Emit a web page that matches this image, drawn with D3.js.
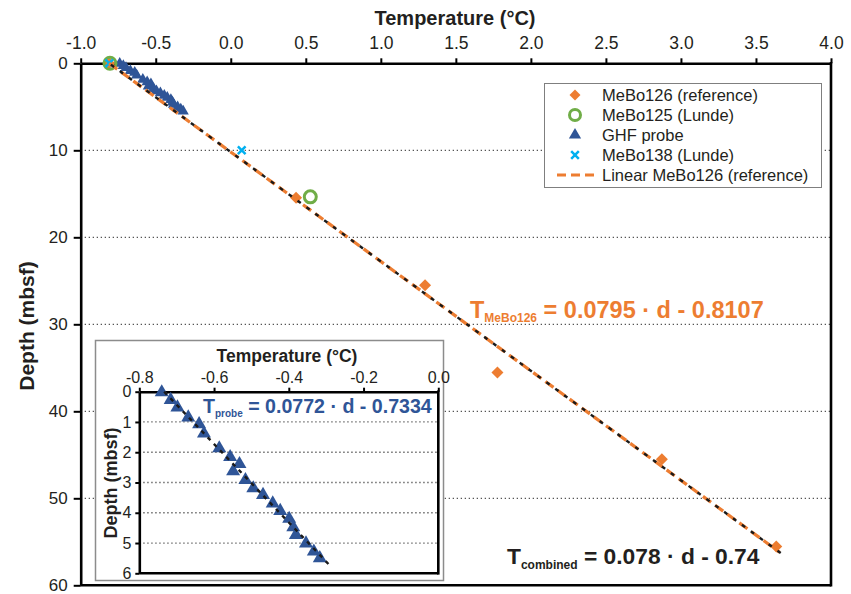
<!DOCTYPE html>
<html><head><meta charset="utf-8">
<script src="https://cdn.jsdelivr.net/npm/d3@7/dist/d3.min.js"></script>
<style>
body{margin:0;background:#fff}
svg{display:block}
text{font-family:"Liberation Sans",Arial,Helvetica,sans-serif;fill:#231f20}
</style>
</head><body>
<svg id="c" width="851" height="594"></svg>
<script>
// ---------- data ----------
const mebo126Temp  = [-0.81, 0.435, 1.295, 1.777, 2.873, 3.635];
const mebo126Depth = [0, 15.45, 25.5, 35.55, 45.5, 55.55];
const mebo125Temp  = [-0.805, 0.53];
const mebo125Depth = [0, 15.35];
const mebo138Temp  = [-0.81, 0.073];
const mebo138Depth = [0, 10.0];
const probeTemp  = [-0.740,-0.716,-0.698,-0.669,-0.640,-0.627,-0.586,-0.557,-0.532,-0.549,-0.516,-0.495,-0.469,-0.443,-0.423,-0.399,-0.388,-0.381,-0.354,-0.333,-0.317];
const probeDepth = [0.02,0.27,0.52,0.85,1.07,1.38,1.87,2.16,2.39,2.63,2.92,3.19,3.41,3.69,3.94,4.20,4.48,4.73,5.01,5.28,5.50];

const fitMeBo126 = [0.0795, -0.8107];   // slope, intercept (orange + black dashed trend)
const fitProbe = [0.0772, -0.7334];
const fitMainDepth = [0, 56.2];
const fitBlackDepth = [0.15, 56.3];
const fitProbeDepth = [0, 5.8];

const xTicks = [-1, -0.5, 0, 0.5, 1, 1.5, 2, 2.5, 3, 3.5, 4];
const xTickLabels = ["-1.0","-0.5","0.0","0.5","1.0","1.5","2.0","2.5","3.0","3.5","4.0"];
const yTicks = [0,10,20,30,40,50,60];
const yTickLabels = ["0","10","20","30","40","50","60"];
const gridDepths = [10,20,30,40,50];
const insetXTicks = [-0.8,-0.6,-0.4,-0.2,0];
const insetXTickLabels = ["-0.8","-0.6","-0.4","-0.2","0.0"];
const insetYTicks = [0,1,2,3,4,5,6];
const insetYTickLabels = ["0","1","2","3","4","5","6"];
const insetGrid = [1,2,3,4,5];
const legendLabels = ["MeBo126 (reference)","MeBo125 (Lunde)","GHF probe","MeBo138 (Lunde)","Linear MeBo126 (reference)"];

// ---------- style ----------
const ORANGE = "#ED7D31", GREEN = "#70AD47", BLUE = "#2F5597", CYAN = "#00B0F0";

const svg = d3.select("#c");
const x = d3.scaleLinear().domain([-1,4]).range([80.7,831]);
const y = d3.scaleLinear().domain([0,60]).range([63.3,585.3]);

// gridlines
svg.append("g").selectAll("line").data(gridDepths).join("line")
  .attr("x1", x(-1)).attr("x2", x(4)).attr("y1", d=>y(d)).attr("y2", d=>y(d))
  .attr("stroke","#555").attr("stroke-width",1.3).attr("stroke-dasharray","1.3,2.7");

// axes
const gx = svg.append("g").attr("transform",`translate(0,${y(0)})`)
  .call(d3.axisTop(x).tickValues(xTicks).tickFormat((d,i)=>xTickLabels[i]).tickSize(5).tickSizeOuter(0).tickPadding(9));
const gy = svg.append("g").attr("transform",`translate(${x(-1)},0)`)
  .call(d3.axisLeft(y).tickValues(yTicks).tickFormat((d,i)=>yTickLabels[i]).tickSize(7).tickSizeOuter(0).tickPadding(6));
[gx,gy].forEach(g=>{
  g.select(".domain").attr("stroke","#000").attr("stroke-width",2.6);
  g.selectAll(".tick line").attr("stroke","#000").attr("stroke-width",2);
  g.selectAll(".tick text").attr("font-size",17.5).attr("fill","#231f20").style("font-family",'"Liberation Sans",Arial,sans-serif');
});
gy.selectAll(".tick text").attr("font-size",17).attr("dy","0.28em");
svg.append("line").attr("x1",x(4)).attr("x2",x(4)).attr("y1",y(0)-1.3).attr("y2",y(60)+1.3).attr("stroke","#000").attr("stroke-width",2.6);
svg.append("line").attr("x1",x(-1)).attr("x2",x(4)).attr("y1",y(60)).attr("y2",y(60)).attr("stroke","#000").attr("stroke-width",2.6);

// axis titles
svg.append("text").attr("x",455).attr("y",25).attr("text-anchor","middle")
  .attr("font-size",20).attr("font-weight","bold").text("Temperature (°C)");
svg.append("text").attr("transform",`translate(34,326) rotate(-90)`).attr("text-anchor","middle")
  .attr("font-size",21).attr("font-weight","bold").text("Depth (mbsf)");

// symbols
const diamond = s => d3.symbol(d3.symbolSquare, s)();
const tri = s => d3.symbol(d3.symbolTriangle, s)();

// main markers
const gm = svg.append("g");
gm.selectAll("path.tri").data(probeTemp).join("path").attr("class","tri")
  .attr("d", tri(55)).attr("fill",BLUE)
  .attr("transform",(d,i)=>`translate(${x(d)},${y(probeDepth[i])})`);
gm.selectAll("path.dia").data(mebo126Temp).join("path").attr("class","dia")
  .attr("d", diamond(72)).attr("fill",ORANGE)
  .attr("transform",(d,i)=>`translate(${x(d)},${y(mebo126Depth[i])}) rotate(45)`);

// fit lines main
function fitLine(g, fit, depths, xs, ys, color, w, dash){
  const pts = depths.map(d=>[xs(fit[0]*d+fit[1]), ys(d)]);
  g.append("path").attr("d", d3.line()(pts)).attr("fill","none")
    .attr("stroke",color).attr("stroke-width",w).attr("stroke-dasharray",dash);
}
fitLine(svg, fitMeBo126, fitMainDepth, x, y, ORANGE, 3.2, "10,5");
fitLine(svg, fitMeBo126, fitBlackDepth, x, y, "#1a1a1a", 2.4, "4,7");

gm.selectAll("circle.c125").data(mebo125Temp).join("circle").attr("class","c125")
  .attr("cx",d=>x(d)).attr("cy",(d,i)=>y(mebo125Depth[i])).attr("r",6)
  .attr("fill","none").attr("stroke",GREEN).attr("stroke-width",3);
gm.selectAll("path.x138").data(mebo138Temp).join("path").attr("class","x138")
  .attr("d", d3.symbol(d3.symbolX, 40)()).attr("fill","none").attr("stroke",CYAN).attr("stroke-width",2.5)
  .attr("transform",(d,i)=>`translate(${x(d)},${y(mebo138Depth[i])})`);

// equations
function eq(xp, yp, size, subSize, shift, color, main, sub, rest){
  const t = svg.append("text").attr("x",xp).attr("y",yp).attr("font-weight","bold")
    .attr("font-size",size).style("fill",color);
  t.append("tspan").text(main);
  t.append("tspan").attr("font-size",subSize).attr("dy",shift).text(sub);
  t.append("tspan").attr("dy",-shift).text(rest);
}
eq(470, 318, 23.5, 12, 4, ORANGE, "T", "MeBo126", " = 0.0795 · d - 0.8107");
eq(507, 564, 22.8, 12, 5, "#231f20", "T", "combined", " = 0.078 · d - 0.74");

// legend
const lg = svg.append("g");
lg.append("rect").attr("x",544.5).attr("y",83.5).attr("width",277).attr("height",104)
  .attr("fill","#fff").attr("stroke","#7f7f7f").attr("stroke-width",1);
const ly = [95,115,135,155,175];
lg.append("path").attr("d",diamond(60)).attr("fill",ORANGE).attr("transform",`translate(575,${ly[0]}) rotate(45)`);
lg.append("circle").attr("cx",575).attr("cy",ly[1]).attr("r",5.5).attr("fill","none").attr("stroke",GREEN).attr("stroke-width",3);
lg.append("path").attr("d",tri(65)).attr("fill",BLUE).attr("transform",`translate(575,${ly[2]})`);
lg.append("path").attr("d",d3.symbol(d3.symbolX,40)()).attr("fill","none").attr("stroke",CYAN).attr("stroke-width",2.5).attr("transform",`translate(575,${ly[3]})`);
lg.append("line").attr("x1",557).attr("x2",594).attr("y1",ly[4]).attr("y2",ly[4]).attr("stroke",ORANGE).attr("stroke-width",3).attr("stroke-dasharray","9,5");
lg.selectAll("text").data(legendLabels).join("text").attr("x",602).attr("y",(d,i)=>ly[i]).attr("dy","0.36em")
  .attr("font-size",16.5).text(d=>d);

// ---------- inset ----------
const xi = d3.scaleLinear().domain([-0.8,0]).range([139.3,438.3]);
const yi = d3.scaleLinear().domain([0,6]).range([391.7,573.3]);
const gi = svg.append("g");
gi.append("rect").attr("x",95.5).attr("y",340.5).attr("width",348).attr("height",240)
  .attr("fill","#fff").attr("stroke","#8c8c8c").attr("stroke-width",1.5);
gi.append("g").selectAll("line").data(insetGrid).join("line")
  .attr("x1",xi(-0.8)).attr("x2",xi(0)).attr("y1",d=>yi(d)).attr("y2",d=>yi(d))
  .attr("stroke","#555").attr("stroke-width",1.3).attr("stroke-dasharray","1.3,2.7");
const gix = gi.append("g").attr("transform",`translate(0,${yi(0)})`)
  .call(d3.axisTop(xi).tickValues(insetXTicks).tickFormat((d,i)=>insetXTickLabels[i]).tickSize(4).tickSizeOuter(0).tickPadding(5));
const giy = gi.append("g").attr("transform",`translate(${xi(-0.8)},0)`)
  .call(d3.axisLeft(yi).tickValues(insetYTicks).tickFormat((d,i)=>insetYTickLabels[i]).tickSize(4).tickSizeOuter(0).tickPadding(4));
[gix,giy].forEach(g=>{
  g.select(".domain").attr("stroke","#000").attr("stroke-width",2.6);
  g.selectAll(".tick line").attr("stroke","#000").attr("stroke-width",2);
  g.selectAll(".tick text").attr("font-size",16).attr("fill","#231f20").style("font-family",'"Liberation Sans",Arial,sans-serif');
});
gi.append("line").attr("x1",xi(0)).attr("x2",xi(0)).attr("y1",yi(0)-1.3).attr("y2",yi(6)+1.3).attr("stroke","#000").attr("stroke-width",2.6);
gi.append("line").attr("x1",xi(-0.8)).attr("x2",xi(0)).attr("y1",yi(6)).attr("y2",yi(6)).attr("stroke","#000").attr("stroke-width",2.6);
gi.append("text").attr("x",287).attr("y",362).attr("text-anchor","middle")
  .attr("font-size",17.5).attr("font-weight","bold").text("Temperature (°C)");
gi.append("text").attr("transform",`translate(117,483) rotate(-90)`).attr("text-anchor","middle")
  .attr("font-size",18).attr("font-weight","bold").text("Depth (mbsf)");
gi.selectAll("path.itri").data(probeTemp).join("path").attr("class","itri")
  .attr("d", tri(85)).attr("fill",BLUE)
  .attr("transform",(d,i)=>`translate(${xi(d)},${yi(probeDepth[i])})`);
fitLine(gi, fitProbe, fitProbeDepth, xi, yi, "#1a1a1a", 2.4, "4,5");
eq(203, 413, 19.6, 10, 4, BLUE, "T", "probe", " = 0.0772 · d - 0.7334");
</script>
</body></html>
